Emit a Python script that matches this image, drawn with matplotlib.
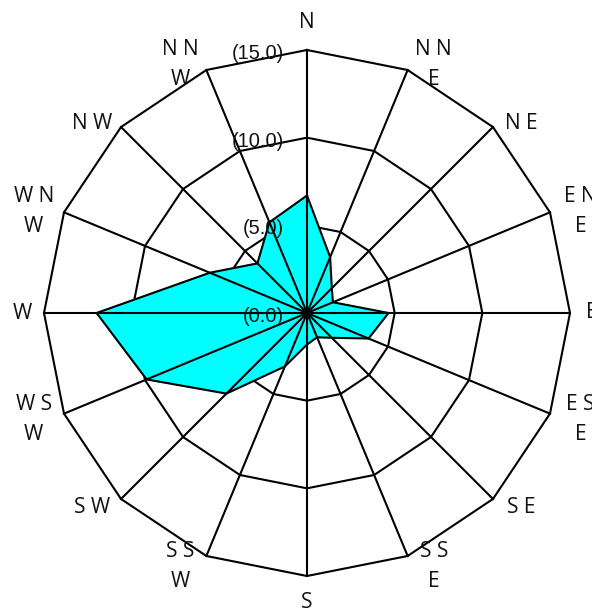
import numpy as np
import matplotlib.pyplot as plt

# wind rose: 16 directions
directions = ['N', 'NNE', 'NE', 'ENE', 'E', 'ESE', 'SE', 'SSE',
              'S', 'SSW', 'SW', 'WSW', 'W', 'WNW', 'NW', 'NNW']
dir_labels = ['N', 'N N\nE', 'N E', 'E N\nE', 'E', 'E S\nE', 'S E', 'S S\nE',
              'S', 'S S\nW', 'S W', 'W S\nW', 'W', 'W N\nW', 'N W', 'N N\nW']
values = [6.7, 3.45, 2.0, 1.6, 4.65, 3.8, 2.0, 1.5,
          1.8, 3.3, 6.5, 9.9, 12.0, 6.0, 4.0, 5.6]
ring_values = [0, 5, 10, 15]
ring_labels = ['(0.0)', '(5.0)', '(10.0)', '(15.0)']

theta = np.deg2rad(np.arange(len(directions)) * 22.5)
theta_closed = np.append(theta, theta[0])
rmax = ring_values[-1]

fig = plt.figure(figsize=(5.92, 6.11), dpi=100)
ax = fig.add_axes([44 / 592, 35 / 611, 526 / 592, 526 / 611], projection='polar')
ax.set_theta_zero_location('N')
ax.set_theta_direction(-1)
ax.set_ylim(0, rmax)
ax.axis('off')

lw = 1.5
# polygon rings (under the fill)
for r in ring_values[1:]:
    ax.plot(theta_closed, [r] * len(theta_closed), color='black', lw=lw,
            zorder=1, clip_on=False)

# data polygon
vals_closed = values + [values[0]]
ax.fill(theta_closed, vals_closed, color='#00FFFF', zorder=2, clip_on=False)
ax.plot(theta_closed, vals_closed, color='black', lw=lw, zorder=3, clip_on=False)

# spokes on top
for t in theta:
    ax.plot([t, t], [0, rmax], color='black', lw=lw, zorder=4, clip_on=False)

# ring value labels, left of the N spoke
for r, lab in zip(ring_values, ring_labels):
    ax.annotate(lab, xy=(0, r), xytext=(-16.5, -2.5), textcoords='offset points',
                ha='right', va='center', fontsize=14.5, family='Liberation Sans',
                color='#111111', zorder=5, annotation_clip=False)

# direction labels
px = 0.72
for t, lab in zip(theta, dir_labels):
    s, c = np.sin(t), np.cos(t)
    if abs(s) < 1e-6:
        ox, oy = 0, 27 * np.sign(c)
    elif abs(c) < 1e-6:
        ox, oy = 22 * np.sign(s), 0
    else:
        ox, oy = (23 + 8 * abs(s)) * np.sign(s), 9 * c - 2.5
    ax.annotate(lab, xy=(t, rmax), xytext=(ox * px, oy * px),
                textcoords='offset points', ha='center', va='center',
                fontsize=15, family='Open Sans', linespacing=1.55,
                color='#111111', annotation_clip=False)

fig.savefig('out.png', dpi=100)
